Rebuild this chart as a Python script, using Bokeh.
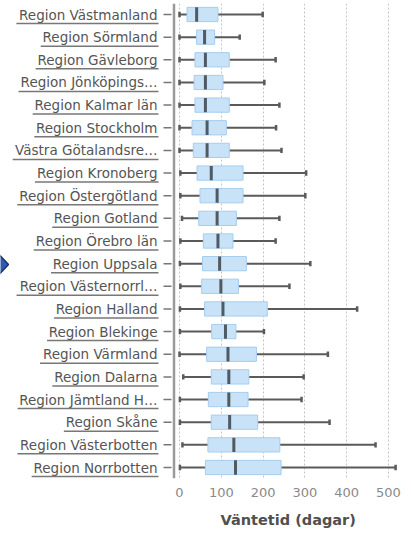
from bokeh.plotting import figure
from bokeh.models import Range1d, FixedTicker, Title
from bokeh.embed import file_html
from bokeh.resources import INLINE
from bokeh.core.properties import value

# ---------------- data ----------------
regions = [
    "Region Västmanland", "Region Sörmland", "Region Gävleborg", "Region Jönköpings…",
    "Region Kalmar län", "Region Stockholm", "Västra Götalandsre…", "Region Kronoberg",
    "Region Östergötland", "Region Gotland", "Region Örebro län", "Region Uppsala",
    "Region Västernorrl…", "Region Halland", "Region Blekinge", "Region Värmland",
    "Region Dalarna", "Region Jämtland H…", "Region Skåne", "Region Västerbotten",
    "Region Norrbotten",
]
whisker_low = [0, 0, 0, 0, 0, 0, 0, 2, 2, 6, 2, 1, 2, 1, 1, 0, 9, 1, 1, 7, 1]
q1 = [18, 41, 37, 35, 37, 30, 33, 42, 49, 46, 57, 55, 53, 60, 77, 65, 76, 69, 76, 68, 62]
median = [41, 60, 62, 62, 62, 66, 66, 76, 90, 90, 92, 96, 99, 104, 110, 116, 118, 118, 120, 130, 134]
q3 = [92, 84, 119, 104, 119, 112, 119, 152, 152, 136, 128, 160, 141, 210, 135, 184, 166, 164, 187, 240, 243]
whisker_high = [199, 144, 230, 203, 239, 231, 244, 303, 301, 239, 230, 313, 263, 425, 202, 355, 297, 292, 359, 469, 517]
x_ticks = [0, 100, 200, 300, 400, 500]
x_title = "Väntetid (dagar)"

# ---------------- layout ----------------
WIDTH, HEIGHT = 410, 540
FRAME_TOP, FRAME_BOTTOM = 3, 478
PX = 0.418          # pixels per day
ZERO = 179          # canvas x of 0 days
ROW0, ROW_H = 14, 22.65
LABEL_FS = 13.5


def dx(c):
    return (c - ZERO) / PX


def dy(c):
    return (c - ROW0) / ROW_H


# approximate DejaVu Sans advance widths (units per em 2048) for underline length
ADV = {' ': 651, '.': 651, '…': 2048, 'A': 1401, 'B': 1405, 'D': 1577, 'G': 1589, 'H': 1540,
       'J': 604, 'K': 1343, 'N': 1532, 'R': 1423, 'S': 1300, 'U': 1499, 'V': 1401, 'Ö': 1612,
       'a': 1255, 'ä': 1255, 'å': 1255, 'b': 1300, 'c': 1126, 'd': 1300, 'e': 1260, 'g': 1300,
       'h': 1298, 'i': 569, 'k': 1186, 'l': 569, 'm': 1995, 'n': 1298, 'o': 1253, 'ö': 1253,
       'p': 1300, 'r': 842, 's': 1067, 't': 803, 'u': 1298, 'v': 1212}


def text_w(s):
    return sum(ADV.get(ch, 1250) for ch in s) / 2048 * LABEL_FS


idx = list(range(len(regions)))

p = figure(width=WIDTH, height=HEIGHT, output_backend="svg", toolbar_location=None,
           x_range=Range1d(dx(0), dx(WIDTH)),
           y_range=Range1d(dy(FRAME_BOTTOM), dy(FRAME_TOP)),
           y_axis_location=None,
           min_border_left=0, min_border_right=0, min_border_top=FRAME_TOP,
           min_border_bottom=HEIGHT - FRAME_BOTTOM)
p.outline_line_color = None
p.background_fill_color = "white"

# x axis
p.xaxis.ticker = FixedTicker(ticks=x_ticks)
p.xaxis.axis_line_color = None
p.xaxis.major_tick_line_color = None
p.xaxis.minor_tick_line_color = None
p.xaxis.major_tick_in = 0
p.xaxis.major_tick_out = 0
p.xaxis.major_label_standoff = 9
p.xaxis.major_label_text_font = "DejaVu Sans"
p.xaxis.major_label_text_font_size = "13px"
p.xaxis.major_label_text_color = "#8a8a8a"

p.xgrid.ticker = FixedTicker(ticks=x_ticks)
p.xgrid.grid_line_color = "#c4c4c4"
p.xgrid.grid_line_dash = "2 2"
p.xgrid.grid_line_width = 1
p.ygrid.visible = False

# axis title (below the axis, shifted to sit under the data area)
p.add_layout(Title(text=x_title, align="left", offset=220, standoff=21,
                   text_font="DejaVu Sans", text_font_size="14.5px",
                   text_font_style="bold", text_color="#505050"), "below")

# little navigation marker at the left edge
p.patch(x=[dx(-10), dx(-1), dx(8), dx(-1)], y=[dy(264), dy(254.5), dy(264), dy(273.5)],
        fill_color="#2d5bb0", line_color="#1b2f6e", line_width=1.5)

# category labels with underline
label_right = dx(157)
p.text(x=[label_right] * len(idx), y=idx, text=regions, text_align="right",
       text_baseline="middle", text_font=value("DejaVu Sans"),
       text_font_size=f"{LABEL_FS}px", text_color="#555555")
ul_off = 9 / ROW_H
p.segment(x0=[label_right - (text_w(r) + 1) / PX for r in regions],
          x1=[label_right + 1 / PX] * len(idx),
          y0=[i + ul_off for i in idx], y1=[i + ul_off for i in idx],
          line_color="#777777", line_width=1.5)

# y axis line and ticks
ax_x = dx(173.5)
p.segment(x0=[ax_x], x1=[ax_x], y0=[dy(FRAME_TOP)], y1=[dy(FRAME_BOTTOM)],
          line_color="#9a9a9a", line_width=2.5)
p.segment(x0=[dx(163)] * len(idx), x1=[dx(171)] * len(idx), y0=idx, y1=idx,
          line_color="#777777", line_width=1.5)

# whiskers
p.segment(x0=whisker_low, x1=q1, y0=idx, y1=idx, line_color="#5a5a5a", line_width=2)
p.segment(x0=q3, x1=whisker_high, y0=idx, y1=idx, line_color="#5a5a5a", line_width=2)
cap = 0.12
p.segment(x0=whisker_low, x1=whisker_low, y0=[i - cap for i in idx], y1=[i + cap for i in idx],
          line_color="#5a5a5a", line_width=2.5)
p.segment(x0=whisker_high, x1=whisker_high, y0=[i - cap for i in idx], y1=[i + cap for i in idx],
          line_color="#5a5a5a", line_width=2.5)

# boxes
p.hbar(y=idx, left=q1, right=q3, height=0.63, fill_color="#c8e3f8",
       line_color="#a6cdee", line_width=1)
# medians
p.segment(x0=median, x1=median, y0=[i - 0.315 for i in idx], y1=[i + 0.315 for i in idx],
          line_color="#4f5a63", line_width=3)

open("out.html", "w").write(file_html(p, INLINE))
